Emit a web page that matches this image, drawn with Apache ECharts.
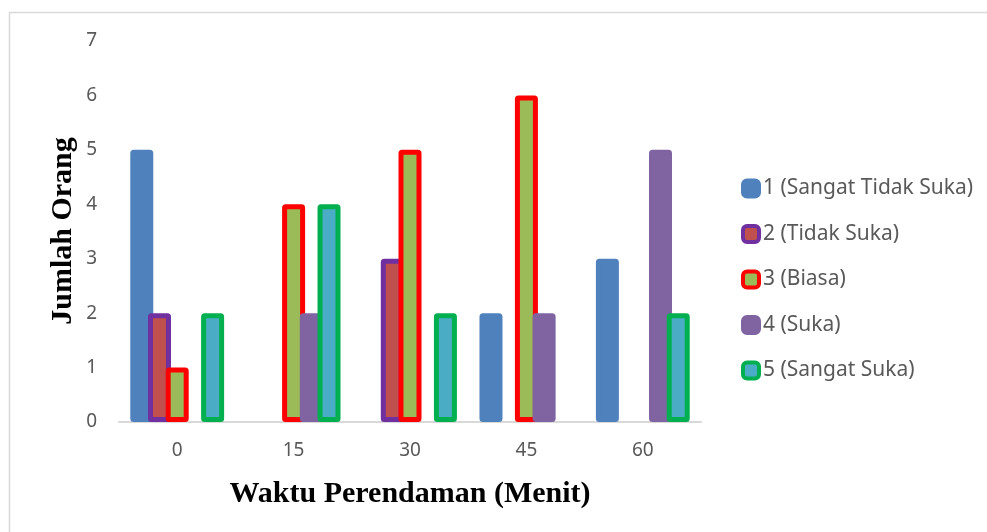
<!DOCTYPE html>
<html>
<head>
<meta charset="utf-8">
<script src="https://cdn.jsdelivr.net/npm/echarts@6/dist/echarts.min.js"></script>
<style>
  html, body { margin: 0; padding: 0; background: #fff; }
  #chart { width: 987px; height: 532px; }
</style>
</head>
<body>
<div id="chart"></div>
<script>
// Soaking time (minutes) on the x axis
const categories = ['0', '15', '30', '45', '60'];

// Number of panelists per preference score
const seriesNames = ['1 (Sangat Tidak Suka)', '2 (Tidak Suka)', '3 (Biasa)', '4 (Suka)', '5 (Sangat Suka)'];
const score1 = [5, 0, 0, 2, 3];
const score2 = [2, 0, 3, 0, 0];
const score3 = [1, 4, 5, 6, 0];
const score4 = [0, 2, 0, 2, 5];
const score5 = [2, 4, 2, 0, 2];

const yTicks = [0, 1, 2, 3, 4, 5, 6, 7];

const fills   = ['#4F81BD', '#C0504D', '#9BBB59', '#8064A2', '#4BACC6'];
const borders = ['#4F81BD', '#7030A0', '#FF0000', '#8064A2', '#00B050'];
const values  = [score1, score2, score3, score4, score5];

const BORDER = 5;

function buildSeries(i) {
  return {
    name: seriesNames[i],
    type: 'bar',
    barWidth: 23,
    barGap: '-23%',
    itemStyle: {
      color: fills[i],
      borderColor: borders[i],
      borderWidth: BORDER,
      borderJoin: 'round',
      borderRadius: 1
    },
    emphasis: { disabled: true },
    // empty bars leave no stroke on the axis
    data: values[i].map(v => v === 0 ? { value: v, itemStyle: { borderWidth: 0 } } : v)
  };
}

const chart = echarts.init(document.getElementById('chart'), null, { renderer: 'canvas' });

const tickFont = "'Noto Sans', 'Open Sans', sans-serif";
const titleFont = "'Liberation Serif', 'DejaVu Serif', serif";

chart.setOption({
  animation: false,
  backgroundColor: '#ffffff',
  grid: { left: 119, right: 286, top: 41, bottom: 110, containLabel: false },
  xAxis: {
    type: 'category',
    data: categories,
    axisLine: { show: true, lineStyle: { color: '#D9D9D9', width: 2 } },
    axisTick: { show: false },
    axisLabel: { color: '#595959', fontFamily: tickFont, fontSize: 19, margin: 19 },
    splitLine: { show: false }
  },
  yAxis: {
    type: 'value',
    min: yTicks[0],
    max: yTicks[yTicks.length - 1],
    interval: 1,
    axisLine: { show: false },
    axisTick: { show: false },
    splitLine: { show: false },
    axisLabel: { color: '#595959', fontFamily: tickFont, fontSize: 19, margin: 22 }
  },
  legend: {
    orient: 'vertical',
    left: 741,
    top: 175,
    padding: 0,
    itemWidth: 16,
    itemHeight: 16,
    itemGap: 18.5,
    icon: 'roundRect',
    itemStyle: { borderWidth: 4 },
    textStyle: { color: '#595959', fontFamily: tickFont, fontSize: 21, lineHeight: 27, padding: [0, 0, 0, -1] },
    data: seriesNames
  },
  graphic: [
    {
      type: 'rect',
      silent: true,
      shape: { x: 9.5, y: 12.5, width: 1200, height: 800 },
      style: { fill: null, stroke: '#D9D9D9', lineWidth: 1.5 }
    },
    {
      type: 'text',
      silent: true,
      x: 63,
      y: 231,
      rotation: Math.PI / 2,
      style: {
        text: 'Jumlah Orang',
        fill: '#000',
        font: "bold 30px " + titleFont,
        align: 'center',
        verticalAlign: 'middle'
      }
    },
    {
      type: 'text',
      silent: true,
      x: 410,
      y: 494,
      style: {
        text: 'Waktu Perendaman (Menit)',
        fill: '#000',
        font: "bold 30px " + titleFont,
        align: 'center',
        verticalAlign: 'middle'
      }
    }
  ],
  series: [0, 1, 2, 3, 4].map(buildSeries)
});
</script>
</body>
</html>
